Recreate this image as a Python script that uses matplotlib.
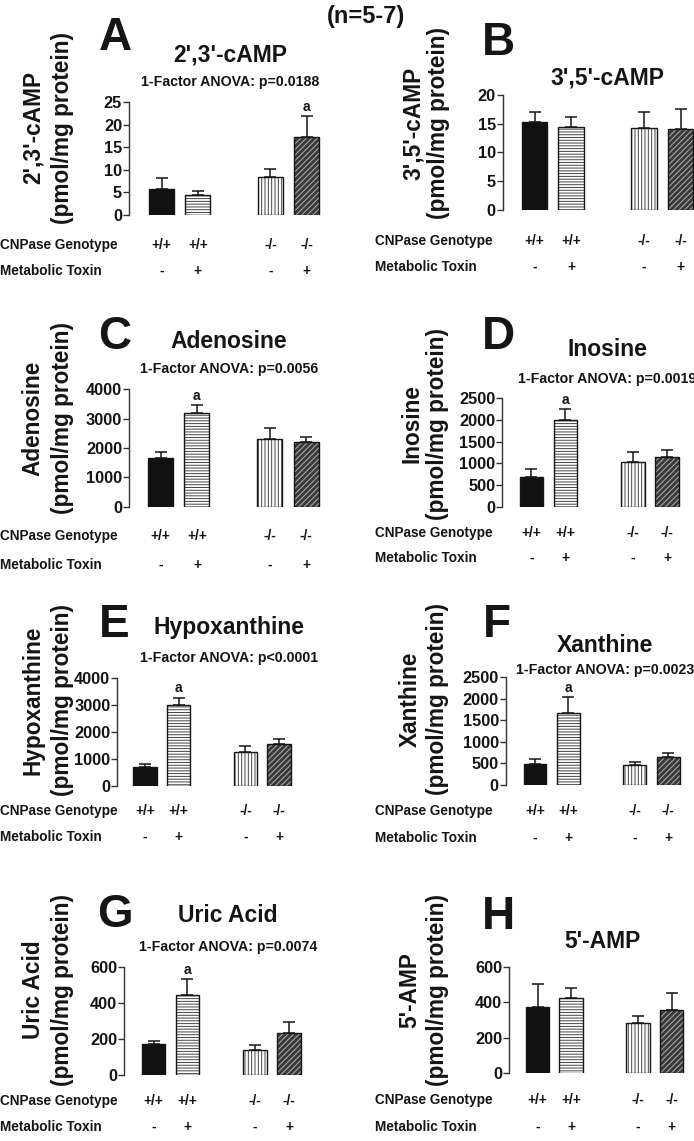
import matplotlib
matplotlib.use("Agg")
import matplotlib.pyplot as plt
from matplotlib.transforms import blended_transform_factory

plt.rcParams['font.family'] = ['Liberation Sans', 'DejaVu Sans']
plt.rcParams['font.weight'] = 'bold'
plt.rcParams['hatch.linewidth'] = 0.7

# group labels (same for every panel)
genotype = ['+/+', '+/+', '-/-', '-/-']
toxin = ['-', '+', '-', '+']
positions = [0, 1, 3, 4]

# means and SEM (pmol/mg protein)
camp23_mean = [5.8, 4.4, 8.4, 17.3]
camp23_sem = [2.4, 0.9, 1.7, 4.5]
camp35_mean = [15.2, 14.4, 14.3, 14.0]
camp35_sem = [1.9, 1.8, 2.8, 3.5]
adenosine_mean = [1650, 3205, 2320, 2215]
adenosine_sem = [215, 250, 375, 160]
inosine_mean = [680, 2000, 1040, 1145]
inosine_sem = [185, 245, 230, 155]
hypox_mean = [685, 3005, 1240, 1540]
hypox_sem = [125, 275, 250, 210]
xanthine_mean = [488, 1664, 464, 658]
xanthine_sem = [108, 372, 62, 77]
uric_mean = [172, 443, 137, 234]
uric_sem = [18, 87, 29, 61]
amp5_mean = [371, 426, 281, 354]
amp5_sem = [129, 52, 41, 96]

# significance marks ('a') per panel: index of bar
sig_a = {'A': 3, 'C': 1, 'D': 1, 'E': 1, 'F': 1, 'G': 1}

W, H = 694, 1141
fig = plt.figure(figsize=(W / 100, H / 100), dpi=100)


def fx(x):
    return x / W


def fy(y):
    return 1 - y / H


# panel layout in pixels: spine x, first bar centre, spacing, y of 0, y of top
panels = [
    dict(letter='A', name="2',3'-cAMP", mean=camp23_mean, sem=camp23_sem, ymax=25, step=5,
         spine=129, c0=161.5, s=36.3, y0=215, yt=102,
         anova='1-Factor ANOVA: p=0.0188', let=(115, 38), title=(230, 55), anova_y=82,
         lab=(33, 62, 128), rows=(245, 271), rowx=0),
    dict(letter='B', name="3',5'-cAMP", mean=camp35_mean, sem=camp35_sem, ymax=20, step=5,
         spine=502.7, c0=534.5, s=36.5, y0=209.5, yt=95,
         anova=None, let=(498, 43), title=(607, 78), anova_y=None,
         lab=(413, 438, 123), rows=(241, 267), rowx=375),
    dict(letter='C', name='Adenosine', mean=adenosine_mean, sem=adenosine_sem, ymax=4000, step=1000,
         spine=129, c0=160.5, s=36.4, y0=506.7, yt=389.3,
         anova='1-Factor ANOVA: p=0.0056', let=(115, 337), title=(229, 342), anova_y=369,
         lab=(33, 62, 418), rows=(536, 565), rowx=0),
    dict(letter='D', name='Inosine', mean=inosine_mean, sem=inosine_sem, ymax=2500, step=500,
         spine=502.3, c0=531.3, s=33.9, y0=506.7, yt=398.3,
         anova='1-Factor ANOVA: p=0.0019', let=(498, 337), title=(607, 349), anova_y=379,
         lab=(412, 437, 424), rows=(533, 558), rowx=375),
    dict(letter='E', name='Hypoxanthine', mean=hypox_mean, sem=hypox_sem, ymax=4000, step=1000,
         spine=117.3, c0=145, s=33.5, y0=785.7, yt=678.3,
         anova='1-Factor ANOVA: p<0.0001', let=(114, 625), title=(229, 628), anova_y=658,
         lab=(33, 62, 700), rows=(811, 837), rowx=0),
    dict(letter='F', name='Xanthine', mean=xanthine_mean, sem=xanthine_sem, ymax=2500, step=500,
         spine=505.7, c0=535, s=33.3, y0=785, yt=677.3,
         anova='1-Factor ANOVA: p=0.0023', let=(497, 625), title=(605, 645), anova_y=670,
         lab=(410, 437, 699), rows=(811, 838), rowx=375),
    dict(letter='G', name='Uric Acid', mean=uric_mean, sem=uric_sem, ymax=600, step=200,
         spine=124, c0=153.7, s=33.8, y0=1075, yt=966.7,
         anova='1-Factor ANOVA: p=0.0074', let=(115, 915), title=(228, 915), anova_y=947,
         lab=(33, 62, 990), rows=(1101, 1127), rowx=0),
    dict(letter='H', name="5'-AMP", mean=amp5_mean, sem=amp5_sem, ymax=600, step=200,
         spine=509.3, c0=537.5, s=33.5, y0=1073.3, yt=966.7,
         anova=None, let=(498, 917), title=(603, 942), anova_y=None,
         lab=(410, 437, 990), rows=(1100, 1127), rowx=375),
]

faces = ['#111111', 'white', 'white', '#3a3a3a']
hatches = [None, '------', '|||||', '//////']
hatch_cols = ['#111111', '#444444', '#444444', '#b0b0b0']
ink = '#151515'

for p in panels:
    xr = 4.5
    xl = (p['spine'] - p['c0']) / p['s']
    right = p['c0'] + xr * p['s']
    ax = fig.add_axes([fx(p['spine']), fy(p['y0']),
                       (right - p['spine']) / W, (p['y0'] - p['yt']) / H])
    ax.set_xlim(xl, xr)
    ax.set_ylim(0, p['ymax'])

    for i in range(4):
        ax.bar(positions[i], p['mean'][i], width=0.69, color=faces[i],
               hatch=hatches[i], edgecolor=hatch_cols[i], linewidth=0, zorder=2)
        ax.bar(positions[i], p['mean'][i], width=0.69, fill=False,
               edgecolor=ink, linewidth=1.0, zorder=3)
    ax.errorbar(positions, p['mean'], yerr=[[0] * 4, p['sem']], fmt='none',
                ecolor=ink, elinewidth=1.1, capsize=4.5, capthick=1.1, zorder=1)

    if p['letter'] in sig_a:
        i = sig_a[p['letter']]
        ax.annotate('a', (positions[i], p['mean'][i] + p['sem'][i]), xytext=(0, 2),
                    textcoords='offset points', ha='center', va='bottom',
                    fontsize=10, color=ink)

    for side in ['top', 'right', 'bottom']:
        ax.spines[side].set_visible(False)
    ax.spines['left'].set_linewidth(1.0)
    ax.spines['left'].set_color('#333333')
    ax.set_xticks([])
    ax.set_yticks(range(0, p['ymax'] + 1, p['step']))
    ax.tick_params(axis='y', length=4, width=1.0, color='#333333',
                   labelsize=11.8, pad=1, labelcolor=ink)
    for t in ax.get_yticklabels():
        t.set_fontweight('bold')

    # group labels under bars
    tr = blended_transform_factory(ax.transData, fig.transFigure)
    for i in range(4):
        ax.text(positions[i], fy(p['rows'][0]), genotype[i], transform=tr,
                ha='center', va='center', fontsize=9.8, color=ink)
        ax.text(positions[i], fy(p['rows'][1]), toxin[i], transform=tr,
                ha='center', va='center', fontsize=9.8, color=ink)
    fig.text(fx(p['rowx']), fy(p['rows'][0]), 'CNPase Genotype',
             ha='left', va='center', fontsize=9.8, color=ink)
    fig.text(fx(p['rowx']), fy(p['rows'][1]), 'Metabolic Toxin',
             ha='left', va='center', fontsize=9.8, color=ink)

    # letters, titles, ANOVA, y labels
    fig.text(fx(p['let'][0]), fy(p['let'][1]), p['letter'], ha='center', va='center',
             fontsize=33, color=ink)
    fig.text(fx(p['title'][0]), fy(p['title'][1]), p['name'], ha='center', va='center',
             fontsize=16.5, color=ink)
    if p['anova']:
        fig.text(fx(p['title'][0]), fy(p['anova_y']), p['anova'], ha='center', va='center',
                 fontsize=10.2, color=ink)
    fig.text(fx(p['lab'][0]), fy(p['lab'][2]), p['name'], rotation=90,
             ha='center', va='center', fontsize=16.3, color=ink)
    fig.text(fx(p['lab'][1]), fy(p['lab'][2]), '(pmol/mg protein)', rotation=90,
             ha='center', va='center', fontsize=16.3, color=ink)

fig.text(fx(366), fy(17), '(n=5-7)', ha='center', va='center', fontsize=17, color=ink)

fig.savefig('out.png', dpi=100)
